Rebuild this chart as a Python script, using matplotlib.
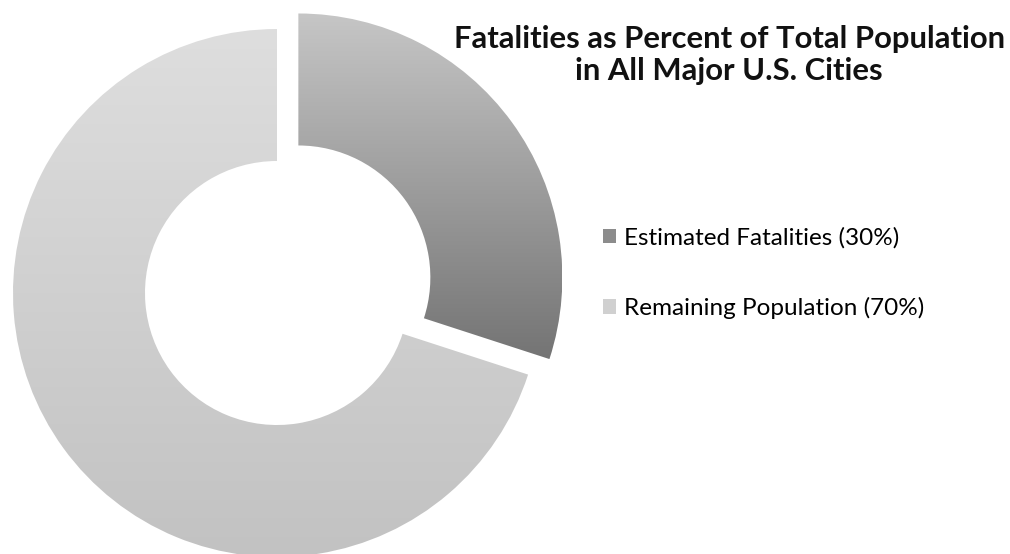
import numpy as np
import matplotlib
matplotlib.use("Agg")
import matplotlib.pyplot as plt
from matplotlib.patches import Patch

# data
labels = ["Estimated Fatalities (30%)", "Remaining Population (70%)"]
shares = [30, 70]
explode = [0.1, 0]

# vertical gradients (top colour, bottom colour) for each slice
grads = [("#c6c6c6", "#747474"), ("#dedede", "#c2c2c2")]
legend_cols = ["#8c8c8c", "#d0d0d0"]

plt.rcParams["font.family"] = ["Lato", "DejaVu Sans"]

fig = plt.figure(figsize=(10.1, 5.54), dpi=100)
ax = fig.add_axes([0, 0, 1, 1])

# donut centre at pixel (277, 293), outer radius 264 px
R = 264.0
cx, cy = 277.0, 293.0

wedges, _ = ax.pie(shares, explode=explode, startangle=90, counterclock=False,
                   radius=1.0, wedgeprops=dict(width=0.5, linewidth=0))
ax.set_aspect("auto")
ax.axis("off")

# paint each wedge with a vertical gradient clipped to its shape
for w, (top, bot) in zip(wedges, grads):
    w.set_facecolor("none")
    bb = w.get_path().get_extents(w.get_transform() - ax.transData)
    c0 = np.array(matplotlib.colors.to_rgb(top))
    c1 = np.array(matplotlib.colors.to_rgb(bot))
    t = np.linspace(0, 1, 256)[:, None]
    img = (c0 * (1 - t) + c1 * t)[:, None, :]
    im = ax.imshow(img, extent=[bb.x0, bb.x1, bb.y0, bb.y1], aspect="auto",
                   origin="upper", interpolation="bilinear", zorder=1)
    im.set_clip_path(w)
ax.set_xlim(-cx / R, (1010 - cx) / R)
ax.set_ylim(-(554 - cy) / R, cy / R)

fig.text(0.722, 0.90, "Fatalities as Percent of Total Population\nin All Major U.S. Cities",
         ha="center", va="center", fontsize=22.3, fontweight="bold",
         linespacing=1.17, color="#111111")

handles = [Patch(facecolor=c, edgecolor="none") for c in legend_cols]
fig.legend(handles, labels, loc="upper left", bbox_to_anchor=(0.597, 0.590),
           frameon=False, fontsize=17.5, handlelength=0.55, handleheight=0.55,
           handletextpad=0.3, labelspacing=2.0, borderpad=0, borderaxespad=0)

fig.savefig("out.png", dpi=100)
